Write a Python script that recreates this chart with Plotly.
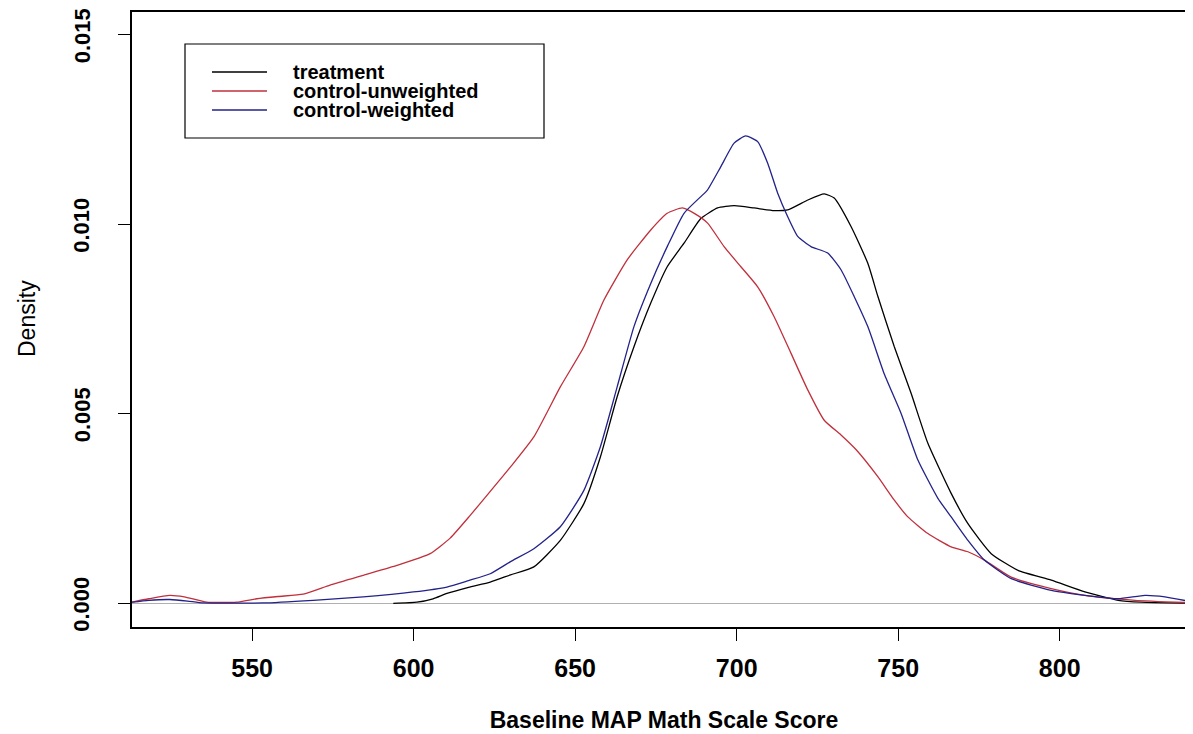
import plotly.graph_objects as go

# ---- data ----
red_x = [512.8, 518, 524.5, 529, 535.9, 545.2, 551.4, 558, 565.8, 574.1, 584.4, 594.8, 605.1, 611.3,
         617.5, 623.2, 630, 637.2, 645.4, 652.7, 658.9, 666.1, 673.4, 678.5, 683.2, 687, 691, 696.1,
         701.3, 706.5, 711.6, 716.8, 722, 727.1, 732.3, 737, 743.7, 748.8, 753, 759.2, 766.4, 771.6,
         776.7, 785, 797.4, 807.8, 823.3, 838.8, 842]
red_y = [0.00003, 0.00012, 0.00021, 0.00017, 0.00003, 0.00003, 0.00012, 0.00018, 0.00024, 0.00048,
         0.00074, 0.00100, 0.00131, 0.00172, 0.00232, 0.00290, 0.00360, 0.00439, 0.00571, 0.00677,
         0.00800, 0.00906, 0.00985, 0.01029, 0.01043, 0.01028, 0.01003, 0.00941, 0.00888, 0.00835,
         0.00756, 0.00660, 0.00563, 0.00483, 0.00444, 0.00405, 0.00334, 0.00272, 0.00228, 0.00184,
         0.00149, 0.00136, 0.00114, 0.00069, 0.00039, 0.00021, 0.00008, 0.00002, 0.00001]

black_x = [593.7, 601, 606, 610.3, 617, 623.7, 630, 637.2, 645.4, 652.7, 657.8, 663, 668.2, 673.4,
           678.5, 683.7, 688.9, 694.1, 699.2, 705.4, 711.6, 715.8, 722, 727.1, 730.2, 735.4, 740.6,
           743.7, 748.8, 754, 759.2, 766.4, 771.6, 778.8, 787.1, 797.4, 807.8, 818.1, 825.3, 842]
black_y = [0.0, 0.00003, 0.00012, 0.00026, 0.00042, 0.00056, 0.00075, 0.00096, 0.00166, 0.00263,
           0.00386, 0.00545, 0.00677, 0.00792, 0.00888, 0.00950, 0.01015, 0.01043, 0.01049, 0.01043,
           0.01036, 0.01038, 0.01064, 0.01080, 0.01069, 0.00994, 0.00897, 0.00810, 0.00677, 0.00554,
           0.00422, 0.00290, 0.00210, 0.00131, 0.00087, 0.00061, 0.00030, 0.00008, 0.00003, 0.0]

blue_x = [512.8, 518, 524.5, 530, 534.8, 553.4, 568.9, 584.4, 599.9, 610.3, 617, 623.7, 630, 637.2,
          645.4, 652.7, 657.8, 663, 668.2, 673.4, 678.5, 683.7, 688.9, 691, 695.1, 699.2, 702.8,
          706.5, 709.6, 712.7, 715.8, 718.9, 723, 728.2, 732.3, 736.4, 740.6, 745.7, 750.9, 756.1,
          762.3, 766.4, 771.6, 776.7, 785, 797.4, 807.8, 818.1, 826.4, 832.6, 842]
blue_y = [0.00003, 0.00008, 0.00010, 0.00006, 0.00001, 0.00001, 0.00008, 0.00017, 0.00030, 0.00043,
          0.00060, 0.00078, 0.00110, 0.00144, 0.00202, 0.00298, 0.00413, 0.00571, 0.00730, 0.00844,
          0.00941, 0.01029, 0.01073, 0.01091, 0.01152, 0.01214, 0.01233, 0.01218, 0.01161, 0.01082,
          0.01020, 0.00968, 0.00941, 0.00924, 0.00880, 0.00809, 0.00730, 0.00605, 0.00501, 0.00378,
          0.00277, 0.00228, 0.00166, 0.00114, 0.00065, 0.00034, 0.00021, 0.00012, 0.00021, 0.00017,
          0.00002]

series_names = ["treatment", "control-unweighted", "control-weighted"]
series_colors = ["#000000", "#c0303c", "#22228a"]

x_ticks = [550, 600, 650, 700, 750, 800]
y_ticks = [0.000, 0.005, 0.010, 0.015]
y_tick_text = ["0.000", "0.005", "0.010", "0.015"]

FONT = "Liberation Sans, Arial, sans-serif"

fig = go.Figure()
for name, xs, ys, col in zip(series_names, [black_x, red_x, blue_x], [black_y, red_y, blue_y], series_colors):
    fig.add_trace(go.Scatter(x=xs, y=ys, mode="lines", name=name,
                             line=dict(color=col, width=1.3, shape="spline", smoothing=0.5),
                             showlegend=False))

W, H = 1193, 734
OFF = 8  # the page body adds an 8px margin; target positions below are page pixels
ml, mr = 132 - OFF, 5
mt, mb = 12 - OFF, H - (627 - OFF)
pw = W - ml - mr
ph = H - mt - mb


def fx(p):
    return (p - OFF - ml) / pw


def fy(p):
    return (H - mb - (p - OFF)) / ph


fig.update_layout(
    width=W, height=H,
    margin=dict(l=ml, r=mr, t=mt, b=mb, autoexpand=False),
    paper_bgcolor="white", plot_bgcolor="white",
    xaxis=dict(range=[512.8, 842.2], tickvals=x_ticks, showgrid=False, zeroline=False,
               showline=True, linecolor="black", linewidth=1.5, mirror=True,
               ticks="outside", ticklen=12, tickcolor="black", tickwidth=1.2,
               tickfont=dict(family=FONT, size=25, color="black", weight="bold"),
               ticklabelstandoff=6, automargin=False,
               title=dict(text="Baseline MAP Math Scale Score",
                          font=dict(family=FONT, size=23, color="black", weight="bold"),
                          standoff=31)),
    yaxis=dict(range=[-0.000625, 0.0156], tickvals=y_ticks, showticklabels=False,
               showgrid=False, zeroline=True, zerolinecolor="#b0b0b0", zerolinewidth=1,
               showline=True, linecolor="black", linewidth=1.5, mirror=False,
               ticks="outside", ticklen=12, tickcolor="black", tickwidth=1.2,
               automargin=False),
)

# y tick labels, rotated as in R (las = 0)
for v, t in zip(y_ticks, y_tick_text):
    fig.add_annotation(xref="paper", yref="y", x=fx(82), y=v, text=t, showarrow=False,
                       textangle=-90, xanchor="center", yanchor="middle", borderpad=0,
                       yshift=-1.5,
                       font=dict(family=FONT, size=22, color="black", weight="bold"))

# y axis title
fig.add_annotation(xref="paper", yref="paper", x=fx(27), y=fy(319), text="Density",
                   showarrow=False, textangle=-90, xanchor="center", yanchor="middle",
                   font=dict(family=FONT, size=23, color="black"))

# hand-drawn legend box (R style), page-pixel targets
fig.add_shape(type="rect", xref="paper", yref="paper",
              x0=fx(185), x1=fx(544), y0=fy(138), y1=fy(44),
              line=dict(color="black", width=1.2), fillcolor="white")
rows = [72, 91, 110]
for name, col, ry in zip(series_names, series_colors, rows):
    fig.add_shape(type="line", xref="paper", yref="paper",
                  x0=fx(212), x1=fx(267), y0=fy(ry), y1=fy(ry),
                  line=dict(color=col, width=1.4))
    fig.add_annotation(xref="paper", yref="paper", x=fx(291), y=fy(ry),
                       text=name, showarrow=False, xanchor="left", yanchor="middle",
                       font=dict(family=FONT, size=20, color="black", weight="bold"))

fig.write_html("out.html")
